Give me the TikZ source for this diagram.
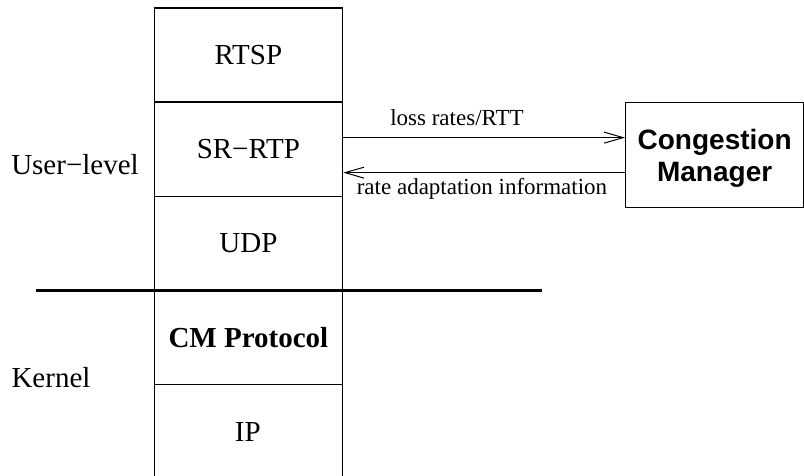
\documentclass[tikz,border=0pt]{standalone}
\usepackage{fontspec}
\setmainfont{Liberation Serif}
\newfontfamily\cmsans{Liberation Sans}
\usetikzlibrary{arrows.meta}
\begin{document}
\begin{tikzpicture}[x=1pt,y=-1pt,
  layer/.style={draw, line width=1.3pt, minimum width=188.5pt, inner sep=0pt, anchor=north west,
    font=\fontsize{29}{32}\selectfont},
  biglabel/.style={font=\fontsize{29}{32}\selectfont, inner sep=0pt},
  smalllabel/.style={font=\fontsize{23}{26}\selectfont, inner sep=0pt},
  arr/.style={line width=1pt, -{Straight Barb[length=19pt,width=11pt,line width=1pt]}},
  cmbox/.style={draw, line width=1.3pt, inner sep=0pt, anchor=north west, minimum width=178pt, minimum height=105pt},
  cmtext/.style={align=center, inner sep=0pt, font=\cmsans\bfseries\fontsize{28}{31.5}\selectfont}]
\useasboundingbox (0,0) rectangle (804,476);
\node[layer, minimum height=94pt] (rtsp) at (153.5,7.5) {RTSP};
\node[layer, minimum height=94.2pt] (srrtp) at (153.5,101.5) {SR−RTP};
\node[layer, minimum height=94.3pt] (udp) at (153.5,195.7) {UDP};
\node[layer, minimum height=94pt] (cmp) at (153.5,290) {\bfseries CM Protocol};
\node[layer, minimum height=100pt, text depth=0pt] (ip) at (153.5,384) {};
\node[biglabel] (iptext) at (247.75,432) {IP};
\node[cmbox] (cm) at (625,102) {};
\node[cmtext] (cmlabel) at ([yshift=-3pt]cm.center) {Congestion\\Manager};
\coordinate (lineL) at (36,290.3);
\coordinate (lineR) at (542,290.3);
\draw[line width=2.8pt] (lineL) -- (lineR);
\node[biglabel] (user) at (75,165) {User−level};
\node[biglabel] (kernel) at (51,378) {Kernel};
\draw[arr] ([yshift=11.6pt]srrtp.east) -- ([yshift=11.6pt]srrtp.east -| cm.west);
\draw[arr] ([yshift=-23.4pt]srrtp.east -| cm.west) -- ([yshift=-23.4pt]srrtp.east);
\node[smalllabel] (lossl) at (457,118) {loss rates/RTT};
\node[smalllabel] (ratel) at (482,189) {rate adaptation information};
\end{tikzpicture}
\end{document}
